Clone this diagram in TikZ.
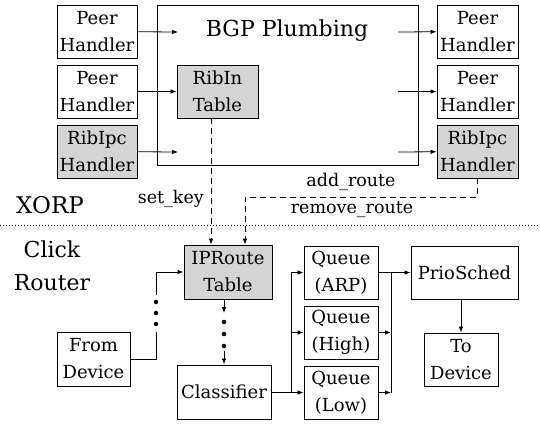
\documentclass[tikz,border=0pt]{standalone}
\usepackage{fontspec}
\setmainfont{DejaVu Serif}
\usetikzlibrary{arrows.meta}
\begin{document}
\begin{tikzpicture}[x=1pt,y=-1pt]
	\tikzset{box/.style = {draw, line width=0.8pt, align=center, inner sep=1pt, font=\fontsize{18}{27}\selectfont}}
	\tikzset{grey/.style = {box, fill=black!17}}
	\tikzset{edge/.style = {-{Latex[length=6pt,width=4.5pt]}, line width=0.8pt}}
	\tikzset{link/.style = {edge, dash pattern=on 6pt off 4pt}}
	\tikzset{label/.style = {inner sep=0pt, font=\fontsize{17.5}{20}\selectfont}}
	\tikzset{dot/.style = {circle, fill, inner sep=0pt, minimum size=4.5pt}}
	\useasboundingbox (0,0) rectangle (540,426);
	% XORP side
	\node[box, minimum width=261, minimum height=160] (plumb) at (287.5,85) {};
	\node[inner sep=0pt, font=\fontsize{22}{24}\selectfont] (title) at (287,31) {BGP Plumbing};
	\node[box, minimum width=80, minimum height=53] (lp1) at (97,31.5) {Peer\\Handler};
	\node[box, minimum width=80, minimum height=53] (lp2) at (97,91.5) {Peer\\Handler};
	\node[grey, minimum width=80, minimum height=53] (lrib) at (97,151.5) {RibIpc\\Handler};
	\node[grey, minimum width=81, minimum height=53] (ribin) at (217.5,91.5) {RibIn\\Table};
	\node[box, minimum width=81, minimum height=53] (rp1) at (477.5,31.5) {Peer\\Handler};
	\node[box, minimum width=81, minimum height=53] (rp2) at (477.5,91.5) {Peer\\Handler};
	\node[grey, minimum width=81, minimum height=53] (rrib) at (477.5,151.5) {RibIpc\\Handler};
	\coordinate (in1) at (178,32);
	\coordinate (in3) at (178,152);
	\coordinate (out1) at (398,32);
	\coordinate (out2) at (398,91.5);
	\coordinate (out3) at (398,152);
	\draw[edge] (lp1) -- (in1);
	\draw[edge] (lp2) -- (ribin);
	\draw[edge] (lrib) -- (in3);
	\draw[edge] (out1) -- (rp1);
	\draw[edge] (out2) -- (rp2);
	\draw[edge] (out3) -- (rrib);
	\node[label, font=\fontsize{23}{26}\selectfont] (xorp) at (50,205) {XORP};
	\node[label, font=\fontsize{22}{33}\selectfont, align=center] (click) at (52,266) {Click\\Router};
	\draw[dash pattern=on 1pt off 2pt, line width=0.8pt] (0,225) -- (540,225);
	% Click side
	\node[grey, minimum width=88, minimum height=54] (iproute) at (228,272) {IPRoute\\Table};
	\node[box, minimum width=73, minimum height=54] (from) at (93.5,359) {From\\Device};
	\node[box, minimum width=94, minimum height=54] (classifier) at (224,392) {Classifier};
	\node[box, minimum width=74, minimum height=53] (qarp) at (341,272.5) {Queue\\(ARP)};
	\node[box, minimum width=74, minimum height=53] (qhigh) at (341,332.5) {Queue\\(High)};
	\node[box, minimum width=74, minimum height=53] (qlow) at (341,392.5) {Queue\\(Low)};
	\node[box, minimum width=107, minimum height=53] (prio) at (464.5,272.5) {PrioSched};
	\node[box, minimum width=74, minimum height=53] (todev) at (461,359.5) {To\\Device};
	% control links
	\draw[link] ([xshift=-17pt]iproute.north |- ribin.south) -- ([xshift=-17pt]iproute.north);
	\node[label, anchor=east] (setkey) at (204,199) {set\_key};
	\coordinate (bend) at (477.5,197);
	\draw[link] (rrib.south) -- (bend) -| ([xshift=17pt]iproute.north);
	\node[label] (add) at (351,182) {add\_route};
	\node[label] (remove) at (352,210) {remove\_route};
	% packet path
	\coordinate (fa) at (156,332);
	\coordinate (fb) at (156,295);
	\draw[line width=0.8pt] (from.east) -| (fa);
	\draw[edge] (fb) |- (iproute.west);
	\foreach \y in {302,313,324} \node[dot] at (156,\y) {};
	\coordinate (ca) at (224,313);
	\coordinate (cb) at (224,351);
	\draw[edge] (classifier.north |- iproute.south) -- (ca);
	\draw[edge] (cb) -- (classifier.north);
	\foreach \y in {322,334,346} \node[dot] at (224,\y) {};
	\coordinate (split) at (291,392.5);
	\coordinate (merge) at (391,392.5);
	\draw[edge] (classifier.east |- qlow.west) -- (qlow.west);
	\draw[edge] (split) |- (qarp.west);
	\draw[edge] (split |- qhigh.west) -- (qhigh.west);
	\draw[edge] (qarp.east) -- (prio.west);
	\draw[edge] (qhigh.east) -- (merge |- qhigh.east);
	\draw[edge] (qlow.east) -- (merge);
	\draw[line width=0.8pt] (merge) -- (merge |- qarp.east);
	\draw[edge] (todev.north |- prio.south) -- (todev.north);
\end{tikzpicture}
\end{document}
